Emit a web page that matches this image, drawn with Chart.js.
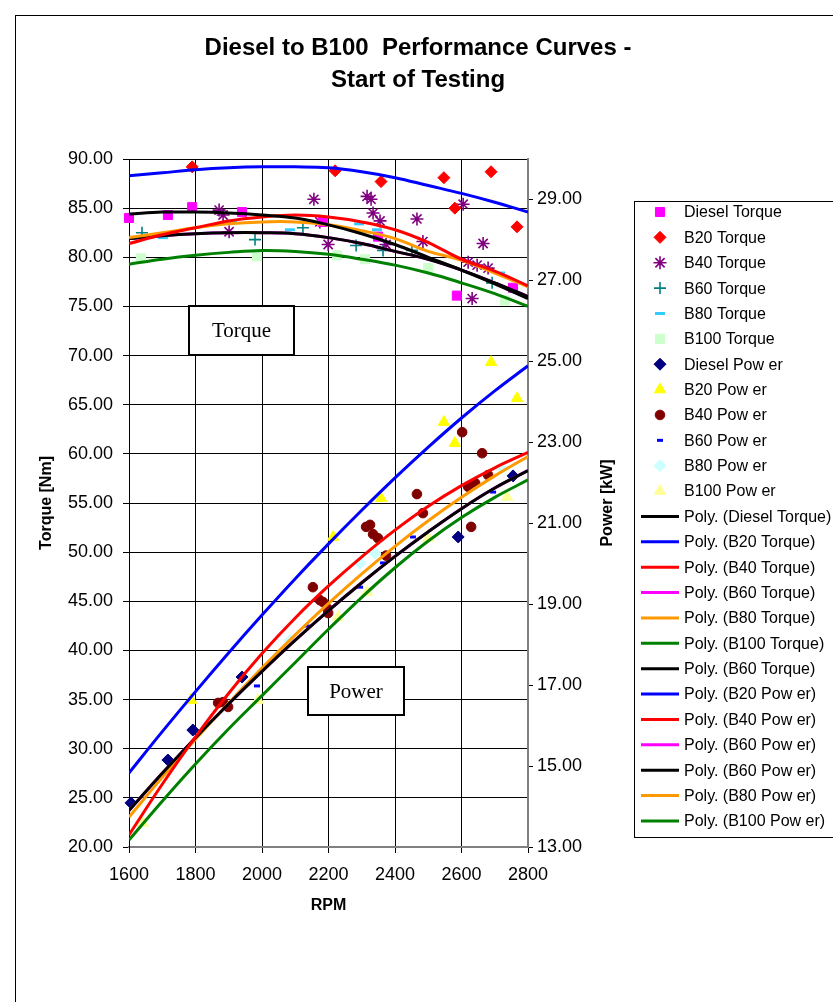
<!DOCTYPE html>
<html>
<head>
<meta charset="utf-8">
<script src="https://cdn.jsdelivr.net/npm/chart.js"></script>
<style>
  html, body { margin: 0; padding: 0; background: #fff; }
  .chart-wrap { position: relative; width: 833px; height: 1002px; }
</style>
</head>
<body>
<div class="chart-wrap"><canvas id="perfChart"></canvas></div>
<script>
// axis ticks
const rpmTicks = [1600, 1800, 2000, 2200, 2400, 2600, 2800];
const torqueTicks = [20, 25, 30, 35, 40, 45, 50, 55, 60, 65, 70, 75, 80, 85, 90];
const powerTicks = [13, 15, 17, 19, 21, 23, 25, 27, 29];

// measured points [rpm, value]
const dieselTorque = [[1600, 84.0], [1717, 84.3], [1790, 85.1], [1940, 84.6], [2183, 83.6], [2349, 82.1], [2586, 76.1], [2755, 76.9]];
const b20Torque = [[1790, 89.2], [2220, 88.8], [2358, 87.7], [2547, 88.1], [2580, 85.0], [2689, 88.7], [2767, 83.1]];
const b40Torque = [[1871, 84.8], [1883, 84.3], [1901, 82.6], [2156, 85.9], [2174, 83.6], [2199, 81.3], [2316, 86.2], [2328, 85.9],
  [2334, 84.5], [2355, 83.7], [2373, 81.3], [2466, 83.9], [2484, 81.6], [2605, 85.4], [2620, 79.5], [2647, 79.2], [2665, 81.4],
  [2680, 78.9], [2632, 75.8]];
const b60Torque = [[1639, 82.5], [1979, 81.8], [2123, 83.0], [2283, 81.2], [2364, 80.7], [2451, 80.7], [2692, 77.4]];
const b80Torque = [[1702, 82.0], [1910, 83.7], [2084, 82.8], [2292, 83.4], [2346, 82.8], [2716, 78.4]];
const b100Torque = [[1636, 79.9], [1985, 80.1], [2226, 80.2], [2310, 79.8], [2500, 78.9], [2731, 75.6]];

const dieselPower = [[1606, 14.09], [1717, 15.15], [1792, 15.89], [1940, 17.2], [2590, 20.66], [2755, 22.17]];
const b20Power = [[1787, 16.63], [2214, 20.66], [2358, 21.62], [2547, 23.5], [2580, 22.98], [2689, 24.98], [2767, 24.09]];
const b40Power = [[1868, 16.56], [1883, 16.58], [1898, 16.46], [2153, 19.42], [2174, 19.1], [2184, 19.05], [2196, 18.9],
  [2199, 18.78], [2313, 20.91], [2325, 20.96], [2334, 20.73], [2349, 20.63], [2373, 20.2], [2466, 21.72], [2484, 21.25],
  [2602, 23.25], [2620, 21.9], [2641, 21.99], [2629, 20.91], [2662, 22.73], [2680, 22.19]];
const b60Power = [[1985, 16.98], [2135, 18.46], [2295, 19.42], [2364, 20.02], [2454, 20.66], [2695, 21.77]];
const b80Power = [[2084, 18.1], [2295, 20.02], [2340, 20.26], [2722, 22.36]];
const b100Power = [[1642, 13.59], [1988, 16.63], [2229, 18.68], [2316, 19.3], [2500, 20.63], [2737, 21.65]];

// trend lines, one value per curveRpm
const curveRpm = [1600, 1700, 1800, 1900, 2000, 2100, 2200, 2300, 2400, 2500, 2600, 2700, 2800];
const polyDieselTorque = [84.4, 84.6, 84.6, 84.5, 84.3, 84.0, 83.3, 82.4, 81.3, 80.0, 78.7, 77.3, 75.8];
const polyB20Torque = [88.3, 88.6, 88.9, 89.1, 89.2, 89.2, 89.1, 88.7, 88.1, 87.3, 86.5, 85.6, 84.6];
const polyB40Torque = [81.4, 82.3, 83.0, 83.7, 84.1, 84.3, 84.1, 83.6, 82.8, 81.5, 79.8, 78.6, 77.1];
const polyB60Torque = [81.9, 82.2, 82.4, 82.5, 82.5, 82.4, 82.0, 81.4, 80.6, 79.8, 78.7, 77.4, 76.0];
const polyB80Torque = [82.0, 82.5, 83.0, 83.4, 83.6, 83.6, 83.3, 82.7, 81.9, 80.6, 79.7, 78.4, 77.0];
const polyB100Torque = [79.3, 79.8, 80.2, 80.5, 80.7, 80.6, 80.3, 79.8, 79.2, 78.4, 77.4, 76.3, 75.0];
const polyB20Power = [14.83, 15.85, 16.84, 17.80, 18.73, 19.63, 20.49, 21.32, 22.12, 22.88, 23.60, 24.27, 24.89];
const polyB40Power = [13.3, 14.55, 15.72, 16.8, 17.78, 18.66, 19.45, 20.17, 20.83, 21.42, 21.93, 22.37, 22.75];
const polyB60Power = [13.9, 14.82, 15.70, 16.54, 17.34, 18.11, 18.84, 19.53, 20.18, 20.79, 21.36, 21.87, 22.30];
const polyB80Power = [13.74, 14.72, 15.66, 16.56, 17.42, 18.24, 19.02, 19.75, 20.43, 21.06, 21.64, 22.17, 22.65];
const polyB100Power = [13.17, 14.13, 15.05, 15.92, 16.74, 17.56, 18.38, 19.17, 19.9, 20.56, 21.14, 21.64, 22.07];

const FONT = '"Liberation Sans", Arial, sans-serif';
Chart.defaults.font.family = FONT;
Chart.defaults.color = '#000';

const toXY = pairs => pairs.map(p => ({ x: p[0], y: p[1] }));
const curveXY = vals => curveRpm.map((r, i) => ({ x: r, y: vals[i] }));

function pts(label, data, axis, style, color, radius, bw) {
  return {
    label: label, data: toXY(data), yAxisID: axis, showLine: false,
    pointStyle: style, pointRadius: radius, pointHoverRadius: radius,
    backgroundColor: color, borderColor: color, borderWidth: bw,
    order: 100, clip: false
  };
}
function poly(label, vals, axis, color, order) {
  return {
    label: label, data: curveXY(vals), yAxisID: axis, showLine: true,
    borderColor: color, backgroundColor: color, borderWidth: 3,
    pointRadius: 0, tension: 0.4, order: order || 10
  };
}

const datasets = [
  pts('Diesel Torque', dieselTorque, 'y', 'rect', '#FF00FF', 6.4, 1),
  pts('B20 Torque', b20Torque, 'y', 'rectRot', '#FF0000', 6, 1),
  pts('B40 Torque', b40Torque, 'y', 'star', '#800080', 6.5, 1.6),
  pts('B60 Torque', b60Torque, 'y', 'cross', '#008080', 6, 1.6),
  pts('B80 Torque', b80Torque, 'y', 'line', '#33CCFF', 5, 3),
  pts('B100 Torque', b100Torque, 'y', 'rect', '#CCFFCC', 6.4, 1),
  pts('Diesel Pow er', dieselPower, 'y2', 'rectRot', '#000080', 6, 1),
  pts('B20 Pow er', b20Power, 'y2', 'triangle', '#FFFF00', 6.5, 1),
  pts('B40 Pow er', b40Power, 'y2', 'circle', '#800000', 4.8, 1),
  pts('B60 Pow er', b60Power, 'y2', 'line', '#0000FF', 3, 3),
  pts('B80 Pow er', b80Power, 'y2', 'rectRot', '#CCFFFF', 6, 1),
  pts('B100 Pow er', b100Power, 'y2', 'triangle', '#FFFF99', 6.5, 1),
  poly('Poly. (Diesel Torque)', polyDieselTorque, 'y', '#000000'),
  poly('Poly. (B20 Torque)', polyB20Torque, 'y', '#0000FF'),
  poly('Poly. (B40 Torque)', polyB40Torque, 'y', '#FF0000'),
  poly('Poly. (B60 Torque)', polyB60Torque, 'y', '#FF00FF', 20),
  poly('Poly. (B80 Torque)', polyB80Torque, 'y', '#FF9900'),
  poly('Poly. (B100 Torque)', polyB100Torque, 'y', '#008000'),
  poly('Poly. (B60 Torque)', polyB60Torque, 'y', '#000000'),
  poly('Poly. (B20 Pow er)', polyB20Power, 'y2', '#0000FF'),
  poly('Poly. (B40 Pow er)', polyB40Power, 'y2', '#FF0000'),
  poly('Poly. (B60 Pow er)', polyB60Power, 'y2', '#FF00FF', 20),
  poly('Poly. (B60 Pow er)', polyB60Power, 'y2', '#000000'),
  poly('Poly. (B80 Pow er)', polyB80Power, 'y2', '#FF9900'),
  poly('Poly. (B100 Pow er)', polyB100Power, 'y2', '#008000')
];

function labelBox(ctx, text, x, y, w, h) {
  ctx.fillStyle = '#fff';
  ctx.fillRect(x, y, w, h);
  ctx.lineWidth = 2;
  ctx.strokeStyle = '#000';
  ctx.strokeRect(x, y, w, h);
  ctx.fillStyle = '#000';
  ctx.font = '21px "Liberation Serif", "Times New Roman", serif';
  ctx.textAlign = 'center';
  ctx.textBaseline = 'middle';
  ctx.fillText(text, x + w / 2, y + h / 2 + 1);
}

const decor = {
  id: 'decor',
  afterDatasetsDraw(chart) {
    const ctx = chart.ctx;
    ctx.save();
    labelBox(ctx, 'Torque', 189, 306, 105, 49);
    labelBox(ctx, 'Power', 308, 667, 96, 48);
    ctx.restore();
  },
  afterDraw(chart) {
    const ctx = chart.ctx;
    ctx.save();
    // outer frame
    ctx.strokeStyle = '#000';
    ctx.lineWidth = 1;
    ctx.strokeRect(15.5, 15.5, 900, 1100);

    // title
    ctx.fillStyle = '#000';
    ctx.textAlign = 'center';
    ctx.textBaseline = 'middle';
    ctx.font = 'bold 24px ' + FONT;
    ctx.fillText('Diesel to B100  Performance Curves -', 418, 48);
    ctx.fillText('Start of Testing', 418, 80);

    // right axis title, reads bottom to top
    ctx.save();
    ctx.translate(608, 503);
    ctx.rotate(-Math.PI / 2);
    ctx.font = 'bold 16px ' + FONT;
    ctx.fillText('Power [kW]', 0, 0);
    ctx.restore();

    // legend
    ctx.strokeRect(634.5, 201.5, 260, 636);
    ctx.font = '16px ' + FONT;
    ctx.textAlign = 'left';
    chart.data.datasets.forEach((ds, i) => {
      const y = 212 + i * 25.37;
      if (ds.showLine) {
        ctx.strokeStyle = ds.borderColor;
        ctx.lineWidth = 3;
        ctx.beginPath();
        ctx.moveTo(641, y);
        ctx.lineTo(679, y);
        ctx.stroke();
      } else {
        ctx.fillStyle = ds.backgroundColor;
        ctx.strokeStyle = ds.borderColor;
        ctx.lineWidth = ds.borderWidth;
        Chart.helpers.drawPoint(ctx, { pointStyle: ds.pointStyle, radius: ds.pointRadius, borderWidth: ds.borderWidth, rotation: 0 }, 660, y);
      }
      ctx.fillStyle = '#000';
      ctx.fillText(ds.label, 684, y + 1);
    });
    ctx.restore();
  }
};

const tickFont = { size: 18, family: FONT };

new Chart(document.getElementById('perfChart'), {
  type: 'scatter',
  data: { datasets: datasets },
  plugins: [decor],
  options: {
    responsive: true,
    maintainAspectRatio: false,
    animation: false,
    events: [],
    layout: { padding: { left: 33, right: 208, top: 159, bottom: 83 } },
    plugins: { legend: { display: false }, tooltip: { enabled: false }, title: { display: false } },
    scales: {
      x: {
        type: 'linear', min: 1600, max: 2800,
        afterBuildTicks: s => { s.ticks = rpmTicks.map(v => ({ value: v })); },
        afterFit: s => { s.height = 72; },
        ticks: { font: tickFont, padding: 11, maxRotation: 0, callback: v => String(v) },
        grid: { color: '#000', lineWidth: 1, tickLength: 6 },
        border: { color: '#808080', width: 2 },
        title: { display: true, text: 'RPM', font: { size: 16, weight: 'bold' }, padding: 4 }
      },
      y: {
        type: 'linear', position: 'left', min: 20, max: 90,
        afterBuildTicks: s => { s.ticks = torqueTicks.map(v => ({ value: v })); },
        afterFit: s => { s.width = 96; },
        ticks: { font: tickFont, padding: 10, callback: v => v.toFixed(2) },
        grid: { color: '#000', lineWidth: 1, tickLength: 6 },
        border: { color: '#000', width: 1 },
        title: { display: true, text: 'Torque [Nm]', font: { size: 16, weight: 'bold' }, padding: 4 }
      },
      y2: {
        type: 'linear', position: 'right', min: 13, max: 30,
        afterBuildTicks: s => { s.ticks = powerTicks.map(v => ({ value: v })); },
        afterFit: s => { s.width = 97; },
        ticks: { font: tickFont, padding: 4, callback: v => v.toFixed(2) },
        grid: { drawOnChartArea: false, color: '#000', tickLength: 5 },
        border: { color: '#808080', width: 2 }
      }
    }
  }
});
</script>
</body>
</html>
